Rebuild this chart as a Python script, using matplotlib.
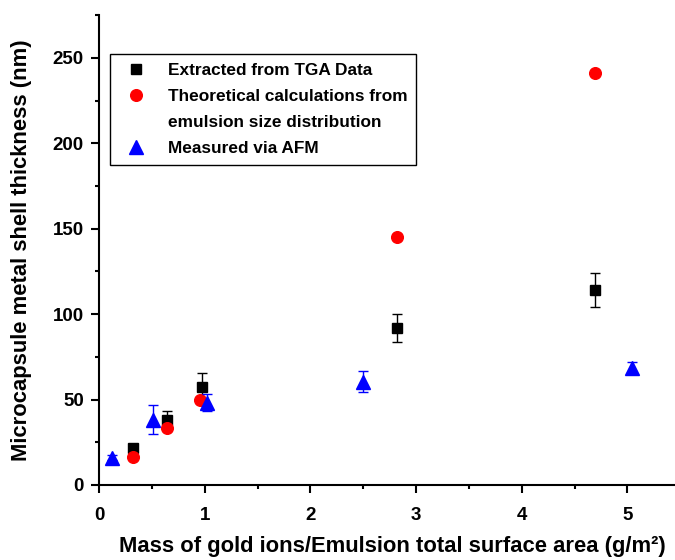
import matplotlib
matplotlib.use('Agg')
import matplotlib.pyplot as plt
from matplotlib.lines import Line2D
from matplotlib.ticker import MultipleLocator

plt.rcParams['font.family'] = ['Liberation Sans', 'DejaVu Sans']
plt.rcParams['font.weight'] = 'bold'

# extracted from TGA data
tga_x = [0.32, 0.64, 0.97, 2.82, 4.69]
tga_y = [21.7, 38.0, 57.4, 91.9, 114.1]
tga_err = [1.5, 5.0, 8.0, 8.0, 10.2]

# theoretical calculations
theo_x = [0.32, 0.64, 0.955, 2.82, 4.69]
theo_y = [16.5, 33.1, 49.6, 144.9, 241.0]

# measured via AFM
afm_x = [0.12, 0.51, 1.02, 2.5, 5.04]
afm_y = [16.0, 38.2, 48.0, 60.5, 68.7]
afm_err = [1.5, 8.5, 5.0, 6.0, 3.5]

fig = plt.figure(figsize=(6.75, 5.6), dpi=100)
ax = fig.add_axes([0.1467, 0.134, 0.8533, 0.839])

ax.errorbar(tga_x, tga_y, yerr=tga_err, fmt='s', color='black', ms=7.3,
            ecolor='black', elinewidth=1, capsize=3.5, capthick=1, zorder=3)
ax.plot(theo_x, theo_y, 'o', color='red', ms=8.4, zorder=4)
ax.errorbar(afm_x, afm_y, yerr=afm_err, fmt='^', color='blue', ms=9.5,
            ecolor='blue', elinewidth=1, capsize=3.5, capthick=1, zorder=5)

ax.set_xlim(0, 5.45)
ax.set_ylim(0, 275)
ax.xaxis.set_major_locator(MultipleLocator(1))
ax.xaxis.set_minor_locator(MultipleLocator(0.5))
ax.yaxis.set_major_locator(MultipleLocator(50))
ax.yaxis.set_minor_locator(MultipleLocator(25))
ax.spines['top'].set_visible(False)
ax.spines['right'].set_visible(False)
for s in ['left', 'bottom']:
    ax.spines[s].set_linewidth(1.5)
ax.tick_params(which='major', direction='out', length=6, width=1.5, labelsize=13.5)
ax.tick_params(axis='x', which='major', pad=10)
ax.tick_params(axis='y', which='major', pad=5)
ax.tick_params(which='minor', direction='out', length=3, width=1.5)
for lab in ax.get_xticklabels() + ax.get_yticklabels():
    lab.set_fontweight('bold')

ax.set_xlabel('Mass of gold ions/Emulsion total surface area (g/m\u00b2)',
              fontsize=15.8, fontweight='bold')
ax.set_ylabel('Microcapsule metal shell thickness (nm)', fontsize=15.8,
              fontweight='bold')
ax.xaxis.set_label_coords(0.51, -0.13)
ax.xaxis.label.set_va('center')
ax.yaxis.set_label_coords(-0.134, 0.5)
ax.yaxis.label.set_va('center')

handles = [
    Line2D([], [], ls='none', marker='s', color='black', ms=7.3),
    Line2D([], [], ls='none', marker='o', color='red', ms=8.4),
    Line2D([], [], ls='none', marker='none'),
    Line2D([], [], ls='none', marker='^', color='blue', ms=9.5),
]
labels = ['Extracted from TGA Data', 'Theoretical calculations from',
          'emulsion size distribution', 'Measured via AFM']
leg = ax.legend(handles, labels, loc='upper left', bbox_to_anchor=(0.019, 0.917),
                borderaxespad=0, fancybox=False, edgecolor='black', framealpha=1,
                prop={'size': 12.4, 'weight': 'bold'}, handletextpad=0.85,
                handlelength=2.0, labelspacing=0.64, borderpad=0.5)
leg.get_frame().set_linewidth(1)

fig.savefig('out.png', dpi=100)
